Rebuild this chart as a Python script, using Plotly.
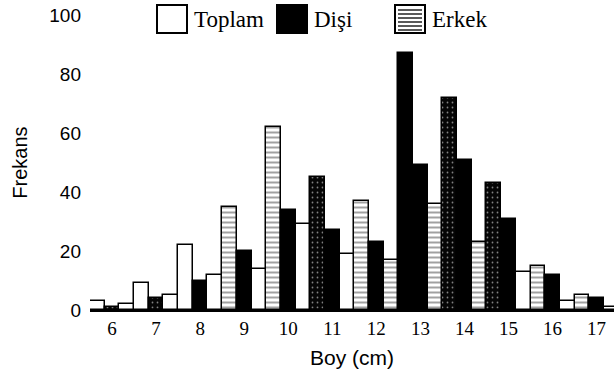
import plotly.graph_objects as go

# Length classes (cm) and frequencies per group
boy = [6, 7, 8, 9, 10, 11, 12, 13, 14, 15, 16, 17]
toplam = [3, 9, 22, 35, 62, 45, 37, 87, 72, 43, 15, 5]
disi = [1, 4, 10, 20, 34, 27, 23, 49, 51, 31, 12, 4]
erkek = [2, 5, 12, 14, 29, 19, 17, 36, 23, 13, 3, 1]
y_ticks = [0, 20, 40, 60, 80, 100]

# Fill style codes per bar: w = white, h = hatched, d = dark speckled, b = solid black
toplam_fill = ["w", "w", "w", "h", "h", "d", "h", "b", "d", "d", "h", "h"]
disi_fill = ["d", "d", "b", "b", "b", "b", "b", "b", "b", "b", "b", "b"]
erkek_fill = ["w", "w", "w", "w", "w", "w", "h", "h", "h", "w", "w", "w"]

STYLES = {
    "w": dict(color="white", shape="", fg="black", bg="white", sol=0.3),
    "h": dict(color="white", shape="-", fg="#2a2a2a", bg="white", sol=0.4),
    "d": dict(color="#050505", shape=".", fg="#8a8a8a", bg="#050505", sol=0.1),
    "b": dict(color="black", shape="", fg="black", bg="black", sol=0.3),
}


def bar_trace(name, values, fills):
    st = [STYLES[f] for f in fills]
    return go.Bar(
        name=name,
        x=boy,
        y=values,
        marker=dict(
            color=[s["color"] for s in st],
            line=dict(color="black", width=1.5),
            pattern=dict(
                shape=[s["shape"] for s in st],
                fgcolor=[s["fg"] for s in st],
                bgcolor=[s["bg"] for s in st],
                solidity=[s["sol"] for s in st],
                size=5,
            ),
        ),
        showlegend=False,
    )


fig = go.Figure()
fig.add_trace(bar_trace("Toplam", toplam, toplam_fill))
fig.add_trace(bar_trace("Dişi", disi, disi_fill))
fig.add_trace(bar_trace("Erkek", erkek, erkek_fill))

W, H = 614, 380
ML, MR, MT, MB = 90, 0, 15, 70
PW, PH = W - ML - MR, H - MT - MB


def px_x(x):
    return (x - ML) / PW


def px_y(y):
    return (H - MB - y) / PH


# Legend drawn as boxes with serif labels across the top
shapes = []
annotations = []
legend_items = [
    ("Toplam", 157, "white"),
    ("Dişi", 277, "black"),
    ("Erkek", 395, "white"),
]
for label, x0, fill in legend_items:
    shapes.append(dict(
        type="rect", xref="paper", yref="paper",
        x0=px_x(x0), x1=px_x(x0 + 30), y0=px_y(33), y1=px_y(5),
        fillcolor=fill, line=dict(color="black", width=2), layer="above",
    ))
    annotations.append(dict(
        text=label, xref="paper", yref="paper",
        x=px_x(x0 + 35), y=px_y(19), xanchor="left", yanchor="middle",
        showarrow=False,
        font=dict(family="Liberation Serif, Times New Roman, serif", size=23, color="black"),
    ))
# horizontal hatch lines inside the Erkek key
for yy in [10, 14, 18, 22, 26, 30]:
    shapes.append(dict(
        type="line", xref="paper", yref="paper",
        x0=px_x(398), x1=px_x(422), y0=px_y(yy), y1=px_y(yy),
        line=dict(color="#222222", width=1.5), layer="above",
    ))

fig.update_layout(
    width=W, height=H,
    margin=dict(l=ML, r=MR, t=MT, b=MB),
    paper_bgcolor="white", plot_bgcolor="white",
    barmode="group", bargap=0, bargroupgap=0,
    shapes=shapes, annotations=annotations,
    font=dict(family="Liberation Sans, Arial, sans-serif", color="black"),
)
fig.update_xaxes(
    range=[5.5, 5.5 + PW / 44.05],
    tickvals=boy, ticktext=[str(b) for b in boy],
    tickfont=dict(family="Liberation Serif, Times New Roman, serif", size=19, color="black"),
    showline=True, linecolor="black", linewidth=2,
    showgrid=False, zeroline=False, ticks="",
    title=dict(text="Boy (cm)", font=dict(size=21, color="black"), standoff=13),
)
fig.update_yaxes(
    range=[0, 100],
    tickvals=y_ticks,
    tickfont=dict(size=19, color="black"),
    showline=False, showgrid=False, zeroline=False, ticks="",
    ticklabelstandoff=8,
    title=dict(text="Frekans", font=dict(size=20, color="black"), standoff=16),
)

fig.write_html("out.html")
